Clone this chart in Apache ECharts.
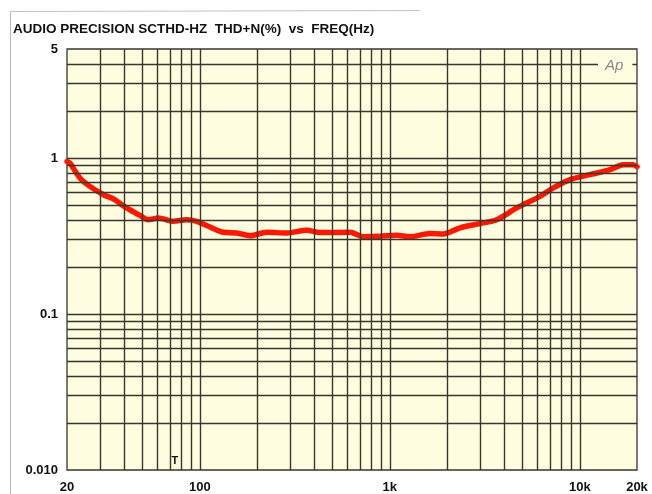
<!DOCTYPE html>
<html><head><meta charset="utf-8">
<script src="https://cdn.jsdelivr.net/npm/echarts@6/dist/echarts.min.js"></script>
<style>html,body{margin:0;padding:0;background:#fff}#c{width:652px;height:494px}</style>
</head><body><div id="c"></div>
<script>
const freqHz = [20, 20.7, 23.4, 26.4, 31.1, 35.1, 41.2, 48.5, 53.6, 60.5, 72.5, 85.3, 96.3, 108.7, 133, 156, 184, 225, 287, 365, 429, 617, 726, 888, 1087, 1277, 1628, 1912, 2341, 2984, 3652, 4654, 6174, 7254, 8881, 11313, 14420, 16940, 19100, 20000];
const thdPct = [0.95, 0.93, 0.745, 0.658, 0.582, 0.547, 0.479, 0.428, 0.402, 0.413, 0.393, 0.402, 0.393, 0.369, 0.334, 0.331, 0.318, 0.334, 0.331, 0.344, 0.333, 0.334, 0.313, 0.315, 0.320, 0.313, 0.328, 0.326, 0.357, 0.380, 0.402, 0.479, 0.568, 0.643, 0.727, 0.782, 0.842, 0.906, 0.906, 0.88];
const xTickValues = [20, 100, 1000, 10000, 20000];
const xTickLabels = ['20', '100', '1k', '10k', '20k'];
const yTickValues = [0.01, 0.1, 1, 5];
const yTickLabels = ['0.010', '0.1', '1', '5'];
const xGridValues = [30, 40, 50, 60, 70, 80, 90, 100, 200, 300, 400, 500, 600, 700, 800, 900, 1000, 2000, 3000, 4000, 5000, 6000, 7000, 8000, 9000, 10000];
const yGridValues = [0.02, 0.03, 0.04, 0.05, 0.06, 0.07, 0.08, 0.09, 0.1, 0.2, 0.3, 0.4, 0.5, 0.6, 0.7, 0.8, 0.9, 1, 2, 3, 4];
const titleText = 'AUDIO PRECISION SCTHD-HZ  THD+N(%)  vs  FREQ(Hz)';
const markerFreq = 74;
const markerLevel = 0.0115;

function lookup(v, vals, labels) {
  let best = 0, bd = Infinity;
  vals.forEach((t, i) => { const d = Math.abs(Math.log10(v) - Math.log10(t)); if (d < bd) { bd = d; best = i; } });
  return bd < 0.02 ? labels[best] : '';
}
const gridColor = '#37372a';
const plotBg = '#fffde0';
const labelStyle = { fontFamily: 'Liberation Sans', fontWeight: 'bold', fontSize: 13, color: '#111' };
const chart = echarts.init(document.getElementById('c'), null, { renderer: 'canvas' });
chart.setOption({
  animation: false,
  backgroundColor: '#ffffff',
  title: { text: titleText, left: 13, top: 22, padding: 0,
    textStyle: { fontFamily: 'Liberation Sans', fontWeight: 'bold', fontSize: 13.5, color: '#111' } },
  grid: { left: 67, right: 15, top: 49, bottom: 22.5, show: true, backgroundColor: plotBg, borderColor: gridColor, borderWidth: 1.3 },
  xAxis: { type: 'log', logBase: 10, min: 20, max: 20000,
    axisLine: { show: false }, axisTick: { show: false }, splitLine: { show: false },
    axisLabel: Object.assign({ showMinLabel: true, showMaxLabel: true, margin: 11,
      formatter: v => lookup(v, xTickValues, xTickLabels) }, labelStyle) },
  yAxis: { type: 'log', logBase: 10, min: 0.01, max: 5,
    axisLine: { show: false }, axisTick: { show: false }, splitLine: { show: false },
    axisLabel: Object.assign({ showMinLabel: true, showMaxLabel: true, margin: 9,
      formatter: v => lookup(v, yTickValues, yTickLabels) }, labelStyle) },
  series: [
    { type: 'line', z: 1, silent: true, symbol: 'none',
      data: freqHz.map((f, i) => [f, thdPct[i]]),
      lineStyle: { opacity: 0 },
      markLine: { silent: true, animation: false, symbol: ['none', 'none'], label: { show: false },
        emphasis: { disabled: true },
        lineStyle: { color: gridColor, width: 1.4, type: 'solid', opacity: 1 },
        data: xGridValues.map(v => ({ xAxis: v })).concat(yGridValues.map(v => ({ yAxis: v }))) },
      markPoint: { silent: true, animation: false, symbol: 'rect', symbolSize: 1,
        itemStyle: { color: 'rgba(0,0,0,0)' },
        label: { show: true, position: 'inside', formatter: 'T', fontFamily: 'Liberation Sans', fontWeight: 'bold', fontSize: 11, color: '#111' },
        data: [{ coord: [markerFreq, markerLevel] }] } },
    { type: 'line', z: 3, silent: true, symbol: 'none', smooth: 0.3,
      data: freqHz.map((f, i) => [f, thdPct[i]]),
      lineStyle: { color: '#ff1800', width: 5.5, cap: 'round', join: 'round' } }
  ],
  graphic: [
    { type: 'line', shape: { x1: 10.5, y1: 11.5, x2: 10.5, y2: 494 }, style: { stroke: '#b8b8b8', lineWidth: 1 }, silent: true },
    { type: 'line', shape: { x1: 10.5, y1: 11.5, x2: 420, y2: 10.5 }, style: { stroke: '#c4c4c4', lineWidth: 1 }, silent: true },
    { type: 'text', left: 598, top: 57, z: 10, silent: true,
      style: { text: 'Ap', fontFamily: 'Liberation Sans', fontStyle: 'italic', fontSize: 15, fill: '#8a8a8a',
        backgroundColor: plotBg, padding: [1, 9, 1, 7] } }
  ]
});
</script></body></html>
